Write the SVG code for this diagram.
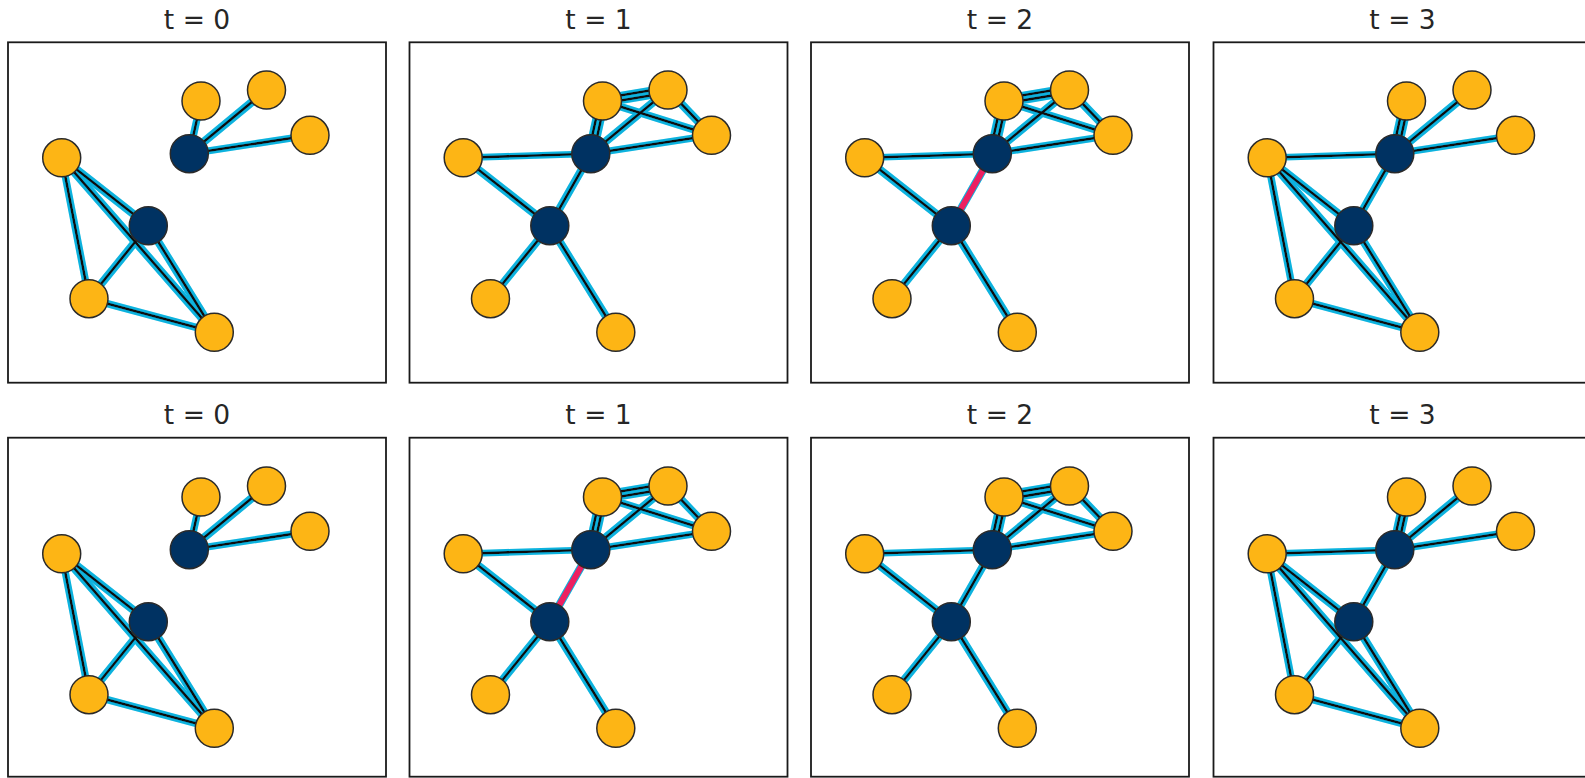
<svg xmlns="http://www.w3.org/2000/svg" width="1585" height="778" viewBox="0 0 1585 778">
<style>
.frame{fill:none;stroke:#1a1a1a;stroke-width:1.8}
.title{font-family:"DejaVu Sans",sans-serif;font-size:26.5px;fill:#262626;text-anchor:middle}
.e{stroke:#0a0a0a;stroke-width:2.6;stroke-linecap:round}
.hot{stroke:#EC2061;stroke-width:6;stroke-linecap:butt}
.y{fill:#FDB515;stroke:#2a2a2a;stroke-width:1.5}
.d{fill:#003262;stroke:#2a2a2a;stroke-width:1.5}
</style>
<defs>
<filter id="glow" x="-10%" y="-10%" width="120%" height="120%">
<feMorphology in="SourceAlpha" operator="dilate" radius="1.6" result="dil"/>
<feGaussianBlur in="dil" stdDeviation="0.7" result="blur"/>
<feFlood flood-color="#08B2DE"/>
<feComposite in2="blur" operator="in" result="g"/>
<feMerge><feMergeNode in="g"/><feMergeNode in="SourceGraphic"/></feMerge>
</filter>
</defs>
<rect width="1585" height="778" fill="#fff"/>

<!-- ROW 1 -->
<g id="panel-r1-t0">
<rect class="frame" x="8" y="42.3" width="378" height="340.4"/>
<text class="title" x="197" y="28.5">t = 0</text>
<g transform="translate(0,0)">
<g id="edges-r1-t0" filter="url(#glow)">
<line class="e" x1="189.3" y1="153.7" x2="201" y2="101"/>
<line class="e" x1="189.3" y1="153.7" x2="266.5" y2="90"/>
<line class="e" x1="189.3" y1="153.7" x2="310" y2="135.3"/>
<line class="e" x1="61.7" y1="157.8" x2="148.3" y2="225.7"/>
<line class="e" x1="61.7" y1="157.8" x2="89" y2="298.7"/>
<line class="e" x1="61.7" y1="157.8" x2="214.3" y2="332.3"/>
<line class="e" x1="148.3" y1="225.7" x2="89" y2="298.7"/>
<line class="e" x1="148.3" y1="225.7" x2="214.3" y2="332.3"/>
<line class="e" x1="89" y1="298.7" x2="214.3" y2="332.3"/>
</g>
<g id="r1t0-A"><circle class="y" cx="201" cy="101" r="19"/></g>
<g id="r1t0-B"><circle class="y" cx="266.5" cy="90" r="19"/></g>
<g id="r1t0-C"><circle class="y" cx="310" cy="135.3" r="19"/></g>
<g id="r1t0-D"><circle class="d" cx="189.3" cy="153.7" r="19"/></g>
<g id="r1t0-E"><circle class="y" cx="61.7" cy="157.8" r="19"/></g>
<g id="r1t0-F"><circle class="d" cx="148.3" cy="225.7" r="19"/></g>
<g id="r1t0-G"><circle class="y" cx="89" cy="298.7" r="19"/></g>
<g id="r1t0-H"><circle class="y" cx="214.3" cy="332.3" r="19"/></g>
</g>
</g>

<g id="panel-r1-t1">
<rect class="frame" x="409.5" y="42.3" width="378" height="340.4"/>
<text class="title" x="598.5" y="28.5">t = 1</text>
<g transform="translate(401.5,0)">
<g id="edges-r1-t1" filter="url(#glow)">
<line class="e" x1="191.74" y1="154.24" x2="203.44" y2="101.54"/>
<line class="e" x1="186.86" y1="153.16" x2="198.56" y2="100.46"/>
<line class="e" x1="189.3" y1="153.7" x2="266.5" y2="90"/>
<line class="e" x1="189.3" y1="153.7" x2="310" y2="135.3"/>
<line class="e" x1="201.41" y1="103.47" x2="266.91" y2="92.47"/>
<line class="e" x1="200.59" y1="98.53" x2="266.09" y2="87.53"/>
<line class="e" x1="201" y1="101" x2="310" y2="135.3"/>
<line class="e" x1="266.5" y1="90" x2="310" y2="135.3"/>
<line class="e" x1="189.3" y1="153.7" x2="61.7" y2="157.8"/>
<line class="e" x1="189.3" y1="153.7" x2="148.3" y2="225.7"/>
<line class="e" x1="61.7" y1="157.8" x2="148.3" y2="225.7"/>
<line class="e" x1="148.3" y1="225.7" x2="89" y2="298.7"/>
<line class="e" x1="148.3" y1="225.7" x2="214.3" y2="332.3"/>
</g>
<g id="r1t1-A"><circle class="y" cx="201" cy="101" r="19"/></g>
<g id="r1t1-B"><circle class="y" cx="266.5" cy="90" r="19"/></g>
<g id="r1t1-C"><circle class="y" cx="310" cy="135.3" r="19"/></g>
<g id="r1t1-D"><circle class="d" cx="189.3" cy="153.7" r="19"/></g>
<g id="r1t1-E"><circle class="y" cx="61.7" cy="157.8" r="19"/></g>
<g id="r1t1-F"><circle class="d" cx="148.3" cy="225.7" r="19"/></g>
<g id="r1t1-G"><circle class="y" cx="89" cy="298.7" r="19"/></g>
<g id="r1t1-H"><circle class="y" cx="214.3" cy="332.3" r="19"/></g>
</g>
</g>

<g id="panel-r1-t2">
<rect class="frame" x="811" y="42.3" width="378" height="340.4"/>
<text class="title" x="1000" y="28.5">t = 2</text>
<g transform="translate(803,0)">
<g id="edges-r1-t2">
<g filter="url(#glow)">
<line class="e" x1="191.74" y1="154.24" x2="203.44" y2="101.54"/>
<line class="e" x1="186.86" y1="153.16" x2="198.56" y2="100.46"/>
<line class="e" x1="189.3" y1="153.7" x2="266.5" y2="90"/>
<line class="e" x1="189.3" y1="153.7" x2="310" y2="135.3"/>
<line class="e" x1="201.41" y1="103.47" x2="266.91" y2="92.47"/>
<line class="e" x1="200.59" y1="98.53" x2="266.09" y2="87.53"/>
<line class="e" x1="201" y1="101" x2="310" y2="135.3"/>
<line class="e" x1="266.5" y1="90" x2="310" y2="135.3"/>
<line class="e" x1="189.3" y1="153.7" x2="61.7" y2="157.8"/>
<line class="e" x1="189.3" y1="153.7" x2="148.3" y2="225.7"/>
<line class="e" x1="61.7" y1="157.8" x2="148.3" y2="225.7"/>
<line class="e" x1="148.3" y1="225.7" x2="89" y2="298.7"/>
<line class="e" x1="148.3" y1="225.7" x2="214.3" y2="332.3"/>
</g>
<line class="hot" x1="189.3" y1="153.7" x2="148.3" y2="225.7"/>
</g>
<g id="r1t2-A"><circle class="y" cx="201" cy="101" r="19"/></g>
<g id="r1t2-B"><circle class="y" cx="266.5" cy="90" r="19"/></g>
<g id="r1t2-C"><circle class="y" cx="310" cy="135.3" r="19"/></g>
<g id="r1t2-D"><circle class="d" cx="189.3" cy="153.7" r="19"/></g>
<g id="r1t2-E"><circle class="y" cx="61.7" cy="157.8" r="19"/></g>
<g id="r1t2-F"><circle class="d" cx="148.3" cy="225.7" r="19"/></g>
<g id="r1t2-G"><circle class="y" cx="89" cy="298.7" r="19"/></g>
<g id="r1t2-H"><circle class="y" cx="214.3" cy="332.3" r="19"/></g>
</g>
</g>

<g id="panel-r1-t3">
<rect class="frame" x="1213.5" y="42.3" width="378" height="340.4"/>
<text class="title" x="1402.5" y="28.5">t = 3</text>
<g transform="translate(1205.5,0)">
<g id="edges-r1-t3" filter="url(#glow)">
<line class="e" x1="191.74" y1="154.24" x2="203.44" y2="101.54"/>
<line class="e" x1="186.86" y1="153.16" x2="198.56" y2="100.46"/>
<line class="e" x1="189.3" y1="153.7" x2="266.5" y2="90"/>
<line class="e" x1="189.3" y1="153.7" x2="310" y2="135.3"/>
<line class="e" x1="189.3" y1="153.7" x2="61.7" y2="157.8"/>
<line class="e" x1="189.3" y1="153.7" x2="148.3" y2="225.7"/>
<line class="e" x1="61.7" y1="157.8" x2="148.3" y2="225.7"/>
<line class="e" x1="61.7" y1="157.8" x2="89" y2="298.7"/>
<line class="e" x1="61.7" y1="157.8" x2="214.3" y2="332.3"/>
<line class="e" x1="148.3" y1="225.7" x2="89" y2="298.7"/>
<line class="e" x1="148.3" y1="225.7" x2="214.3" y2="332.3"/>
<line class="e" x1="89" y1="298.7" x2="214.3" y2="332.3"/>
</g>
<g id="r1t3-A"><circle class="y" cx="201" cy="101" r="19"/></g>
<g id="r1t3-B"><circle class="y" cx="266.5" cy="90" r="19"/></g>
<g id="r1t3-C"><circle class="y" cx="310" cy="135.3" r="19"/></g>
<g id="r1t3-D"><circle class="d" cx="189.3" cy="153.7" r="19"/></g>
<g id="r1t3-E"><circle class="y" cx="61.7" cy="157.8" r="19"/></g>
<g id="r1t3-F"><circle class="d" cx="148.3" cy="225.7" r="19"/></g>
<g id="r1t3-G"><circle class="y" cx="89" cy="298.7" r="19"/></g>
<g id="r1t3-H"><circle class="y" cx="214.3" cy="332.3" r="19"/></g>
</g>
</g>

<!-- ROW 2 -->
<g id="panel-r2-t0">
<rect class="frame" x="8" y="437.7" width="378" height="339"/>
<text class="title" x="197" y="424">t = 0</text>
<g transform="translate(0,396)">
<g id="edges-r2-t0" filter="url(#glow)">
<line class="e" x1="189.3" y1="153.7" x2="201" y2="101"/>
<line class="e" x1="189.3" y1="153.7" x2="266.5" y2="90"/>
<line class="e" x1="189.3" y1="153.7" x2="310" y2="135.3"/>
<line class="e" x1="61.7" y1="157.8" x2="148.3" y2="225.7"/>
<line class="e" x1="61.7" y1="157.8" x2="89" y2="298.7"/>
<line class="e" x1="61.7" y1="157.8" x2="214.3" y2="332.3"/>
<line class="e" x1="148.3" y1="225.7" x2="89" y2="298.7"/>
<line class="e" x1="148.3" y1="225.7" x2="214.3" y2="332.3"/>
<line class="e" x1="89" y1="298.7" x2="214.3" y2="332.3"/>
</g>
<g id="r2t0-A"><circle class="y" cx="201" cy="101" r="19"/></g>
<g id="r2t0-B"><circle class="y" cx="266.5" cy="90" r="19"/></g>
<g id="r2t0-C"><circle class="y" cx="310" cy="135.3" r="19"/></g>
<g id="r2t0-D"><circle class="d" cx="189.3" cy="153.7" r="19"/></g>
<g id="r2t0-E"><circle class="y" cx="61.7" cy="157.8" r="19"/></g>
<g id="r2t0-F"><circle class="d" cx="148.3" cy="225.7" r="19"/></g>
<g id="r2t0-G"><circle class="y" cx="89" cy="298.7" r="19"/></g>
<g id="r2t0-H"><circle class="y" cx="214.3" cy="332.3" r="19"/></g>
</g>
</g>

<g id="panel-r2-t1">
<rect class="frame" x="409.5" y="437.7" width="378" height="339"/>
<text class="title" x="598.5" y="424">t = 1</text>
<g transform="translate(401.5,396)">
<g id="edges-r2-t1">
<g filter="url(#glow)">
<line class="e" x1="191.74" y1="154.24" x2="203.44" y2="101.54"/>
<line class="e" x1="186.86" y1="153.16" x2="198.56" y2="100.46"/>
<line class="e" x1="189.3" y1="153.7" x2="266.5" y2="90"/>
<line class="e" x1="189.3" y1="153.7" x2="310" y2="135.3"/>
<line class="e" x1="201.41" y1="103.47" x2="266.91" y2="92.47"/>
<line class="e" x1="200.59" y1="98.53" x2="266.09" y2="87.53"/>
<line class="e" x1="201" y1="101" x2="310" y2="135.3"/>
<line class="e" x1="266.5" y1="90" x2="310" y2="135.3"/>
<line class="e" x1="189.3" y1="153.7" x2="61.7" y2="157.8"/>
<line class="e" x1="189.3" y1="153.7" x2="148.3" y2="225.7"/>
<line class="e" x1="61.7" y1="157.8" x2="148.3" y2="225.7"/>
<line class="e" x1="148.3" y1="225.7" x2="89" y2="298.7"/>
<line class="e" x1="148.3" y1="225.7" x2="214.3" y2="332.3"/>
</g>
<line class="hot" x1="189.3" y1="153.7" x2="148.3" y2="225.7"/>
</g>
<g id="r2t1-A"><circle class="y" cx="201" cy="101" r="19"/></g>
<g id="r2t1-B"><circle class="y" cx="266.5" cy="90" r="19"/></g>
<g id="r2t1-C"><circle class="y" cx="310" cy="135.3" r="19"/></g>
<g id="r2t1-D"><circle class="d" cx="189.3" cy="153.7" r="19"/></g>
<g id="r2t1-E"><circle class="y" cx="61.7" cy="157.8" r="19"/></g>
<g id="r2t1-F"><circle class="d" cx="148.3" cy="225.7" r="19"/></g>
<g id="r2t1-G"><circle class="y" cx="89" cy="298.7" r="19"/></g>
<g id="r2t1-H"><circle class="y" cx="214.3" cy="332.3" r="19"/></g>
</g>
</g>

<g id="panel-r2-t2">
<rect class="frame" x="811" y="437.7" width="378" height="339"/>
<text class="title" x="1000" y="424">t = 2</text>
<g transform="translate(803,396)">
<g id="edges-r2-t2" filter="url(#glow)">
<line class="e" x1="191.74" y1="154.24" x2="203.44" y2="101.54"/>
<line class="e" x1="186.86" y1="153.16" x2="198.56" y2="100.46"/>
<line class="e" x1="189.3" y1="153.7" x2="266.5" y2="90"/>
<line class="e" x1="189.3" y1="153.7" x2="310" y2="135.3"/>
<line class="e" x1="201.41" y1="103.47" x2="266.91" y2="92.47"/>
<line class="e" x1="200.59" y1="98.53" x2="266.09" y2="87.53"/>
<line class="e" x1="201" y1="101" x2="310" y2="135.3"/>
<line class="e" x1="266.5" y1="90" x2="310" y2="135.3"/>
<line class="e" x1="189.3" y1="153.7" x2="61.7" y2="157.8"/>
<line class="e" x1="189.3" y1="153.7" x2="148.3" y2="225.7"/>
<line class="e" x1="61.7" y1="157.8" x2="148.3" y2="225.7"/>
<line class="e" x1="148.3" y1="225.7" x2="89" y2="298.7"/>
<line class="e" x1="148.3" y1="225.7" x2="214.3" y2="332.3"/>
</g>
<g id="r2t2-A"><circle class="y" cx="201" cy="101" r="19"/></g>
<g id="r2t2-B"><circle class="y" cx="266.5" cy="90" r="19"/></g>
<g id="r2t2-C"><circle class="y" cx="310" cy="135.3" r="19"/></g>
<g id="r2t2-D"><circle class="d" cx="189.3" cy="153.7" r="19"/></g>
<g id="r2t2-E"><circle class="y" cx="61.7" cy="157.8" r="19"/></g>
<g id="r2t2-F"><circle class="d" cx="148.3" cy="225.7" r="19"/></g>
<g id="r2t2-G"><circle class="y" cx="89" cy="298.7" r="19"/></g>
<g id="r2t2-H"><circle class="y" cx="214.3" cy="332.3" r="19"/></g>
</g>
</g>

<g id="panel-r2-t3">
<rect class="frame" x="1213.5" y="437.7" width="378" height="339"/>
<text class="title" x="1402.5" y="424">t = 3</text>
<g transform="translate(1205.5,396)">
<g id="edges-r2-t3" filter="url(#glow)">
<line class="e" x1="191.74" y1="154.24" x2="203.44" y2="101.54"/>
<line class="e" x1="186.86" y1="153.16" x2="198.56" y2="100.46"/>
<line class="e" x1="189.3" y1="153.7" x2="266.5" y2="90"/>
<line class="e" x1="189.3" y1="153.7" x2="310" y2="135.3"/>
<line class="e" x1="189.3" y1="153.7" x2="61.7" y2="157.8"/>
<line class="e" x1="189.3" y1="153.7" x2="148.3" y2="225.7"/>
<line class="e" x1="61.7" y1="157.8" x2="148.3" y2="225.7"/>
<line class="e" x1="61.7" y1="157.8" x2="89" y2="298.7"/>
<line class="e" x1="61.7" y1="157.8" x2="214.3" y2="332.3"/>
<line class="e" x1="148.3" y1="225.7" x2="89" y2="298.7"/>
<line class="e" x1="148.3" y1="225.7" x2="214.3" y2="332.3"/>
<line class="e" x1="89" y1="298.7" x2="214.3" y2="332.3"/>
</g>
<g id="r2t3-A"><circle class="y" cx="201" cy="101" r="19"/></g>
<g id="r2t3-B"><circle class="y" cx="266.5" cy="90" r="19"/></g>
<g id="r2t3-C"><circle class="y" cx="310" cy="135.3" r="19"/></g>
<g id="r2t3-D"><circle class="d" cx="189.3" cy="153.7" r="19"/></g>
<g id="r2t3-E"><circle class="y" cx="61.7" cy="157.8" r="19"/></g>
<g id="r2t3-F"><circle class="d" cx="148.3" cy="225.7" r="19"/></g>
<g id="r2t3-G"><circle class="y" cx="89" cy="298.7" r="19"/></g>
<g id="r2t3-H"><circle class="y" cx="214.3" cy="332.3" r="19"/></g>
</g>
</g>
</svg>
